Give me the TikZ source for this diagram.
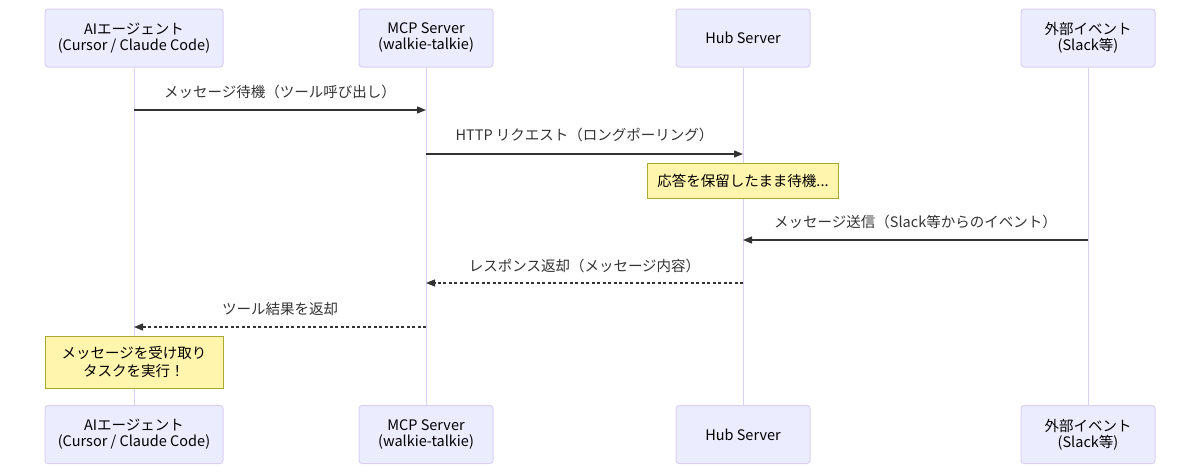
\documentclass[tikz,border=0pt]{standalone}
\usepackage{fontspec}
\setmainfont{Noto Sans CJK JP}
\usetikzlibrary{arrows.meta}
\definecolor{actorfill}{HTML}{ECECFF}
\definecolor{actorborder}{HTML}{DACEF3}
\definecolor{notefill}{HTML}{FFF5AD}
\definecolor{noteborder}{HTML}{AAAA33}
\definecolor{msgc}{HTML}{333333}
\begin{document}
\begin{tikzpicture}[x=1pt,y=-1pt,
  font=\fontsize{14.5}{16}\selectfont,
  actor/.style={draw=actorborder, fill=actorfill, rounded corners=3pt,
    minimum height=58pt, align=center, text=black, line width=1pt, inner sep=0pt},
  life/.style={draw=actorborder, line width=1pt},
  msg/.style={draw=msgc, line width=1.3pt, -{Triangle[length=9pt,width=7pt]}},
  reply/.style={msg, dash pattern=on 3pt off 2.5pt},
  note/.style={draw=noteborder, fill=notefill, line width=1pt, align=center,
    inner sep=0pt, text=black},
  lbl/.style={text=msgc, inner sep=0pt}]
\useasboundingbox (0,0) rectangle (1200,474);

% actors top
\node[actor, minimum width=178pt] (a1t) at (134,38) {AIエージェント\\(Cursor / Claude Code)};
\node[actor, minimum width=134pt] (a2t) at (426,38) {MCP Server\\(walkie-talkie)};
\node[actor, minimum width=134pt] (a3t) at (743,38) {Hub Server};
\node[actor, minimum width=134pt] (a4t) at (1088,38) {外部イベント\\(Slack等)};
% actors bottom
\node[actor, minimum width=178pt] (a1b) at (134,434.5) {AIエージェント\\(Cursor / Claude Code)};
\node[actor, minimum width=134pt] (a2b) at (426,434.5) {MCP Server\\(walkie-talkie)};
\node[actor, minimum width=134pt] (a3b) at (743,434.5) {Hub Server};
\node[actor, minimum width=134pt] (a4b) at (1088,434.5) {外部イベント\\(Slack等)};

% lifelines
\draw[life] (a1t.south) -- (a1b.north);
\draw[life] (a2t.south) -- (a2b.north);
\draw[life] (a3t.south) -- (a3b.north);
\draw[life] (a4t.south) -- (a4b.north);

% message end points on lifelines
\coordinate (m1s) at (134,110); \coordinate (m1e) at (426,110);
\coordinate (m2s) at (426,154); \coordinate (m2e) at (743,154);
\coordinate (m4s) at (1088,240); \coordinate (m4e) at (743,240);
\coordinate (m5s) at (743,283); \coordinate (m5e) at (426,283);
\coordinate (m6s) at (426,327); \coordinate (m6e) at (134,327);

\draw[msg] (m1s) -- (m1e);
\node[lbl] (l1) at (280,92) {メッセージ待機（ツール呼び出し）};
\draw[msg] (m2s) -- (m2e);
\node[lbl] (l2) at (584.5,135) {HTTP リクエスト（ロングポーリング）};
\node[note, minimum width=191pt, minimum height=35pt] (n1) at (743,180.5) {応答を保留したまま待機...};
\draw[msg] (m4s) -- (m4e);
\node[lbl] (l4) at (915.5,222) {メッセージ送信（Slack等からのイベント）};
\draw[reply] (m5s) -- (m5e);
\node[lbl] (l5) at (584.5,266) {レスポンス返却（メッセージ内容）};
\draw[reply] (m6s) -- (m6e);
\node[lbl] (l6) at (280,309) {ツール結果を返却};
\node[note, minimum width=178pt, minimum height=52pt, font=\fontsize{14.5}{18}\selectfont] (n2) at (134,362) {メッセージを受け取り\\タスクを実行！};
\end{tikzpicture}
\end{document}
